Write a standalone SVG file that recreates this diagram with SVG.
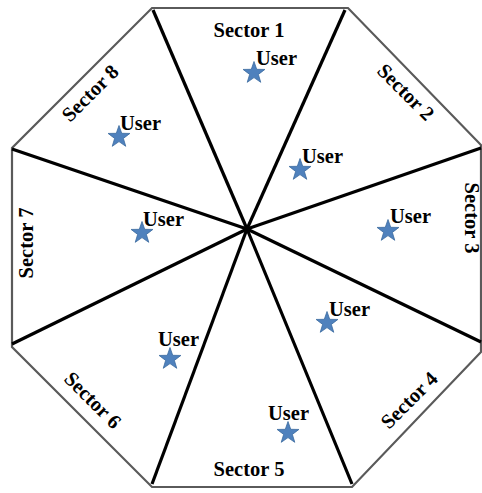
<svg xmlns="http://www.w3.org/2000/svg" width="482" height="493" viewBox="0 0 482 493">
<style>
.lbl{font-family:"Liberation Serif","Times New Roman",serif;font-weight:bold;font-size:20.5px;fill:#000}
.usr{font-family:"Liberation Serif","Times New Roman",serif;font-weight:bold;font-size:20.5px;fill:#000}
.star{fill:#4F81BD;stroke:#3A6A9E;stroke-width:0.8}
.spoke{stroke:#000;stroke-width:3.2;stroke-linecap:butt;fill:none}
.border{fill:#fff;stroke:#5a5a5a;stroke-width:2.2;stroke-linejoin:miter}
</style>
<defs>
<path id="star" d="M0,-11.5 L2.7,-3.7 L10.9,-3.55 L4.37,1.42 L6.76,9.3 L0,4.6 L-6.76,9.3 L-4.37,1.42 L-10.9,-3.55 L-2.7,-3.7 Z"/>
</defs>
<rect width="482" height="493" fill="#fff"/>
<g id="octagon">
<polygon class="border" points="152,8 348,8 481,145 481,352 352,487 152,487 12,347 12,148"/>
</g>
<g id="connectors">
<line class="spoke" x1="247" y1="229" x2="153" y2="10"/>
<line class="spoke" x1="247" y1="229" x2="345" y2="10"/>
<line class="spoke" x1="247" y1="229" x2="481" y2="148"/>
<line class="spoke" x1="247" y1="229" x2="481" y2="342"/>
<line class="spoke" x1="247" y1="229" x2="352" y2="484"/>
<line class="spoke" x1="247" y1="229" x2="152" y2="484"/>
<line class="spoke" x1="247" y1="229" x2="12" y2="344"/>
<line class="spoke" x1="247" y1="229" x2="12" y2="149"/>
</g>
<g id="sector1">
<text class="lbl" x="249" y="37" text-anchor="middle">Sector 1</text>
<use href="#star" class="star" x="254" y="73"/>
<text class="usr" x="256" y="65">User</text>
</g>
<g id="sector2">
<text class="lbl" transform="translate(401,97) rotate(45)" text-anchor="middle">Sector 2</text>
<use href="#star" class="star" x="300" y="170"/>
<text class="usr" x="302" y="163">User</text>
</g>
<g id="sector3">
<text class="lbl" transform="translate(465,218) rotate(90)" text-anchor="middle">Sector 3</text>
<use href="#star" class="star" x="388" y="231"/>
<text class="usr" x="390" y="223">User</text>
</g>
<g id="sector4">
<text class="lbl" transform="translate(414,405) rotate(-45)" text-anchor="middle">Sector 4</text>
<use href="#star" class="star" x="327" y="323"/>
<text class="usr" x="329" y="316">User</text>
</g>
<g id="sector5">
<text class="lbl" x="249" y="476" text-anchor="middle">Sector 5</text>
<use href="#star" class="star" x="288" y="433"/>
<text class="usr" x="268" y="420">User</text>
</g>
<g id="sector6">
<text class="lbl" transform="translate(88,405) rotate(45)" text-anchor="middle">Sector 6</text>
<use href="#star" class="star" x="170" y="359"/>
<text class="usr" x="158" y="346">User</text>
</g>
<g id="sector7">
<text class="lbl" transform="translate(33,243) rotate(-90)" text-anchor="middle">Sector 7</text>
<use href="#star" class="star" x="142" y="233"/>
<text class="usr" x="143" y="226">User</text>
</g>
<g id="sector8">
<text class="lbl" transform="translate(95,98) rotate(-45)" text-anchor="middle">Sector 8</text>
<use href="#star" class="star" x="119" y="137"/>
<text class="usr" x="120" y="130">User</text>
</g>
</svg>
